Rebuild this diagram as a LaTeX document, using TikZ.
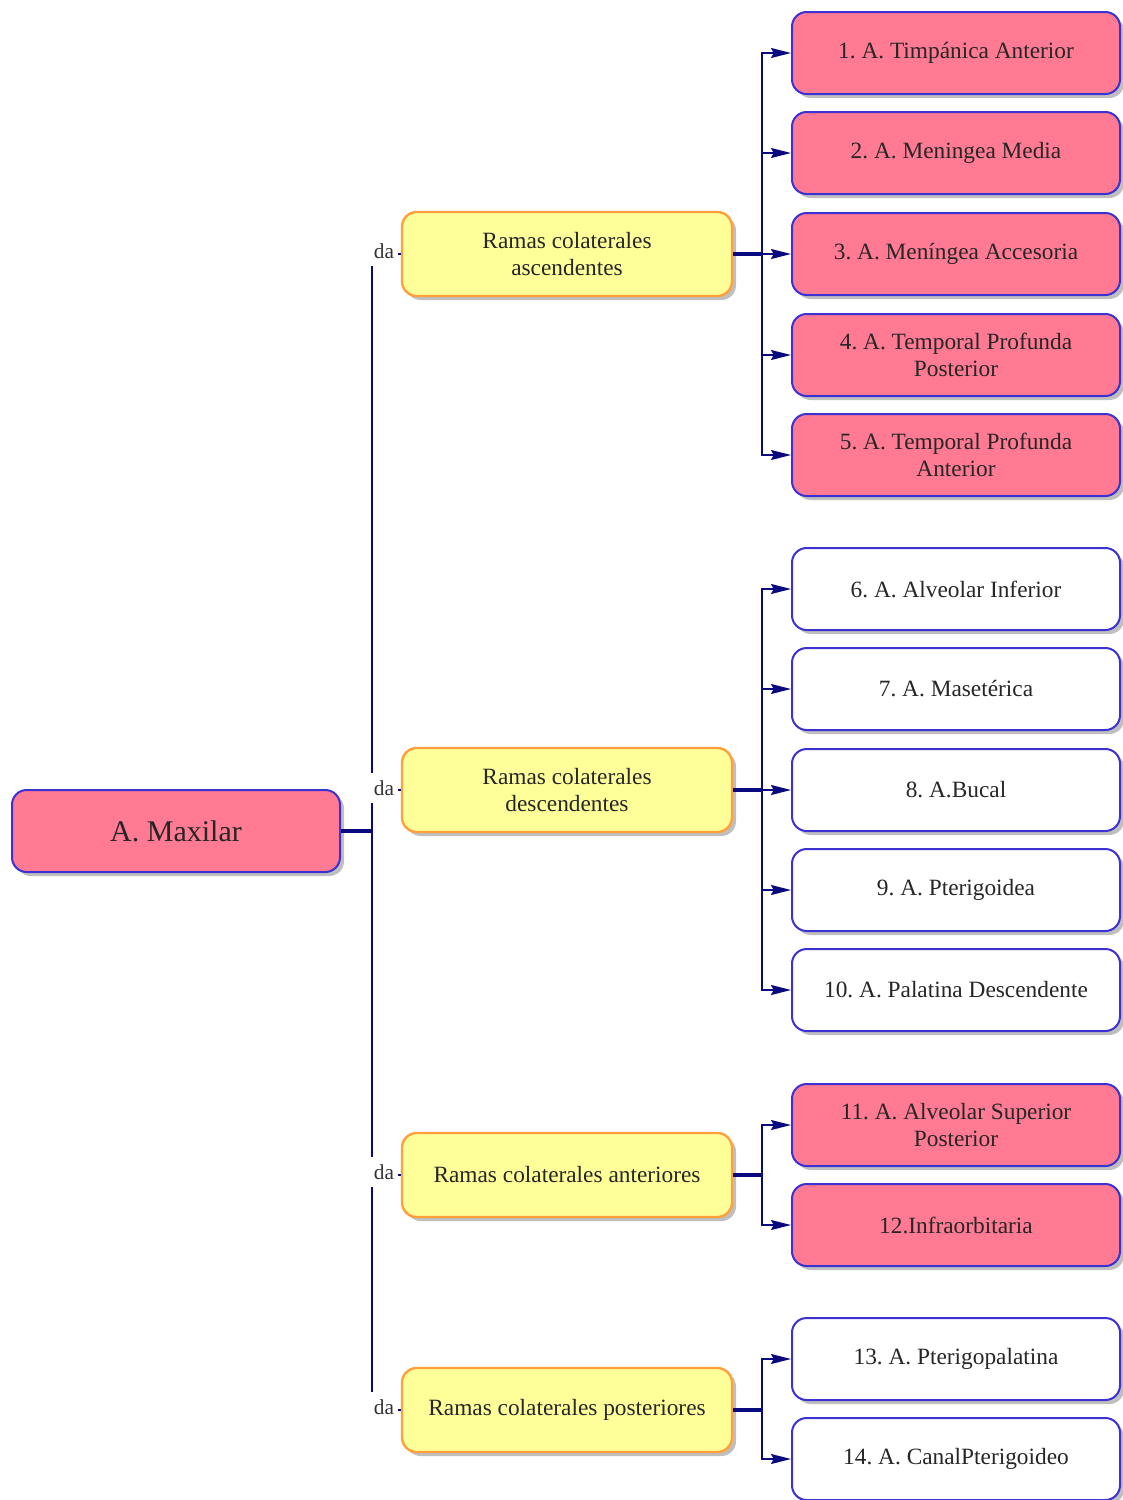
\documentclass[tikz,border=0pt]{standalone}
\usepackage{fontspec}
\setmainfont{Liberation Serif}
\frenchspacing
\usetikzlibrary{arrows.meta, shadows}

\definecolor{rosa}{RGB}{255,122,146}
\definecolor{amarillo}{RGB}{255,255,153}
\definecolor{naranja}{RGB}{255,160,60}
\definecolor{borde}{RGB}{60,50,210}
\definecolor{marino}{RGB}{10,10,128}

\tikzset{
    caja/.style={draw=borde, line width=1.5pt, rounded corners=11pt, align=center,
        minimum width=246pt, minimum height=61.5pt, text=black!85,
        font=\fontsize{17.5}{20}\selectfont,
        drop shadow={shadow xshift=3pt, shadow yshift=-3pt, fill=black!50}},
    rama/.style={caja, draw=naranja, line width=1.8pt, fill=amarillo, minimum width=247.5pt, minimum height=63pt},
    hojarosa/.style={caja, fill=rosa},
    hojablanca/.style={caja, fill=white},
    union/.style={draw=marino, line width=1.4pt},
    tronco/.style={draw=marino, line width=2.4pt},
    flecha/.style={union, -{Stealth[length=15pt, width=7.5pt, inset=2pt]}},
    etiqueta/.style={fill=white, inner sep=0pt, minimum width=21pt, minimum height=22pt,
        font=\fontsize{16}{18}\selectfont, text=black!80}
}

\begin{document}
\begin{tikzpicture}[x=0.75pt, y=-0.75pt]
    \useasboundingbox[fill=white] (0,0) rectangle (1123,1500);

    % raiz
    \node[caja, fill=rosa, font=\fontsize{22.5}{26}\selectfont] (maxilar) at (176,831) {A. Maxilar};

    % ramas colaterales
    \node[rama] (ascendentes) at (567,254) {Ramas colaterales\\ascendentes};
    \node[rama] (descendentes) at (567,790) {Ramas colaterales\\descendentes};
    \node[rama] (anteriores) at (567,1175) {Ramas colaterales anteriores};
    \node[rama] (posteriores) at (567,1410) {Ramas colaterales posteriores};

    % arterias
    \node[hojarosa] (a1) at (956,53) {1. A. Timpánica Anterior};
    \node[hojarosa] (a2) at (956,153) {2. A. Meningea Media};
    \node[hojarosa] (a3) at (956,254) {3. A. Meníngea Accesoria};
    \node[hojarosa] (a4) at (956,355) {4. A. Temporal Profunda\\Posterior};
    \node[hojarosa] (a5) at (956,455) {5. A. Temporal Profunda\\Anterior};
    \node[hojablanca] (a6) at (956,589) {6. A. Alveolar Inferior};
    \node[hojablanca] (a7) at (956,689) {7. A. Masetérica};
    \node[hojablanca] (a8) at (956,790) {8. A.Bucal};
    \node[hojablanca] (a9) at (956,890) {9. A. Pterigoidea};
    \node[hojablanca] (a10) at (956,990) {10. A. Palatina Descendente};
    \node[hojarosa] (a11) at (956,1125) {11. A. Alveolar Superior\\Posterior};
    \node[hojarosa] (a12) at (956,1225) {12.Infraorbitaria};
    \node[hojablanca] (a13) at (956,1359) {13. A. Pterigopalatina};
    \node[hojablanca] (a14) at (956,1459) {14. A. CanalPterigoideo};

    % conexiones de la raiz
    \coordinate (t0) at (372,831);
    \draw[tronco] (maxilar.east) -- (t0);
    \draw[union] (t0) |- (ascendentes.west);
    \draw[union] (t0) |- (descendentes.west);
    \draw[union] (t0) |- (anteriores.west);
    \draw[union] (t0) |- (posteriores.west);
    \node[etiqueta] (da1) at (384,251) {da};
    \node[etiqueta] (da2) at (384,788) {da};
    \node[etiqueta] (da3) at (384,1172) {da};
    \node[etiqueta] (da4) at (384,1407) {da};

    % conexiones de las ramas
    \coordinate (t1) at (762,254);
    \coordinate (t2) at (762,790);
    \coordinate (t3) at (762,1175);
    \coordinate (t4) at (762,1410);
    \draw[tronco] (ascendentes.east) -- (t1);
    \draw[tronco] (descendentes.east) -- (t2);
    \draw[tronco] (anteriores.east) -- (t3);
    \draw[tronco] (posteriores.east) -- (t4);
    \foreach \a in {a1,a2,a3,a4,a5} \draw[flecha] (t1) |- (\a.west);
    \foreach \a in {a6,a7,a8,a9,a10} \draw[flecha] (t2) |- (\a.west);
    \foreach \a in {a11,a12} \draw[flecha] (t3) |- (\a.west);
    \foreach \a in {a13,a14} \draw[flecha] (t4) |- (\a.west);
\end{tikzpicture}
\end{document}
